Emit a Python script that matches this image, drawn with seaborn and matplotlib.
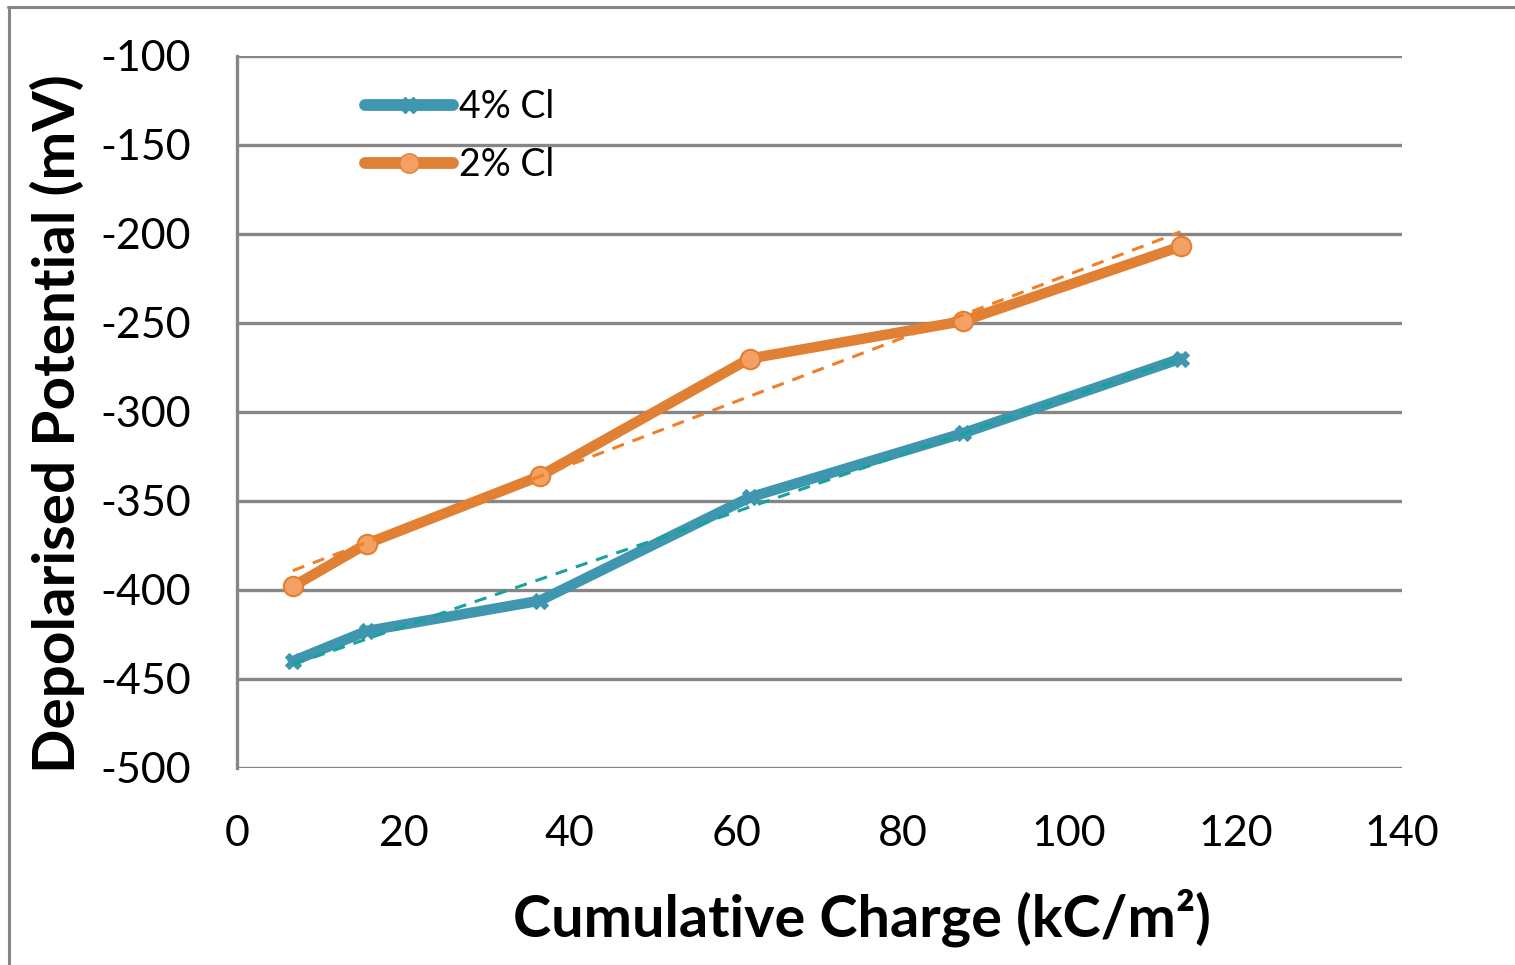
import numpy as np
import pandas as pd
import matplotlib
matplotlib.use("Agg")
import matplotlib.pyplot as plt
import seaborn as sns
from matplotlib.lines import Line2D

charge_4 = [6.7, 15.6, 36.4, 61.6, 87.2, 113.4]
pot_4 = [-440, -423, -406, -348, -312, -270]
charge_2 = [6.7, 15.6, 36.4, 61.6, 87.2, 113.4]
pot_2 = [-398, -374, -336, -270, -249, -207]
series_names = ["4% Cl", "2% Cl"]
x_ticks = [0, 20, 40, 60, 80, 100, 120, 140]
y_ticks = [-500, -450, -400, -350, -300, -250, -200, -150, -100]

sns.set_style("white")
plt.rcParams['font.family'] = ['Lato', 'DejaVu Sans']
plt.rcParams['text.color'] = 'black'
plt.rcParams['axes.labelcolor'] = 'black'

teal = "#3F96AF"
orange = "#E08035"
teal_trend = "#17A39C"
orange_trend = "#F07F2A"
grid_c = "#868686"

fig = plt.figure(figsize=(15.15, 9.65), dpi=100)
ax = fig.add_axes([237/1515, 1-768/965, (1402-237)/1515, (768-56)/965])

df4 = pd.DataFrame({"x": charge_4, "y": pot_4})
df2 = pd.DataFrame({"x": charge_2, "y": pot_2})

for yv in y_ticks:
    ax.axhline(yv, color=grid_c, lw=2.4, zorder=0)

sns.lineplot(data=df4, x="x", y="y", ax=ax, color=teal, lw=7.5, marker="X",
             markersize=11, markeredgecolor=teal, markerfacecolor=teal, zorder=3,
             solid_capstyle="round")
sns.lineplot(data=df2, x="x", y="y", ax=ax, color=orange, lw=7.5, marker="o",
             markersize=14, markeredgecolor=orange, markerfacecolor="#F4A062",
             markeredgewidth=1.5, zorder=3, solid_capstyle="round")

sns.regplot(data=df4, x="x", y="y", ax=ax, scatter=False, ci=None, truncate=True,
            line_kws=dict(color=teal_trend, lw=2.2, ls=(0, (4, 3)), zorder=4))
sns.regplot(data=df2, x="x", y="y", ax=ax, scatter=False, ci=None, truncate=True,
            line_kws=dict(color=orange_trend, lw=2.2, ls=(0, (4, 3)), zorder=4))

ax.set_xlim(0, 140)
ax.set_ylim(-500, -100)
ax.set_xticks(x_ticks)
ax.set_yticks(y_ticks)
ax.set_xticklabels([str(v) for v in x_ticks])
ax.set_yticklabels([str(v) for v in y_ticks])
ax.tick_params(axis="both", length=0, labelsize=31, colors="black")
ax.tick_params(axis="x", pad=34)
ax.tick_params(axis="y", pad=33)
for lab in ax.get_yticklabels():
    lab.set_horizontalalignment("right")

for s in ["top", "right", "bottom"]:
    ax.spines[s].set_visible(False)
ax.spines["left"].set_color(grid_c)
ax.spines["left"].set_linewidth(2.4)

ax.set_xlabel("Cumulative Charge (kC/m²)", fontsize=41.5, fontweight="bold",
              color="black", va="center")
ax.set_ylabel("Depolarised Potential (mV)", fontsize=42, fontweight="bold",
              color="black", va="center")
ax.xaxis.set_label_coords((862-237)/1165, (768-918)/712)
ax.yaxis.set_label_coords((57-237)/1165, (768-423.5)/712)

handles = [
    Line2D([], [], color=teal, lw=8.5, marker="X", markersize=11, markerfacecolor=teal,
           solid_capstyle="round"),
    Line2D([], [], color=orange, lw=8.5, marker="o", markersize=14,
           markerfacecolor="#F4A062", markeredgecolor=orange, solid_capstyle="round"),
]
leg = ax.legend(handles, series_names, loc="upper left", bbox_to_anchor=(0.097, 0.975),
                frameon=False, fontsize=27, handlelength=2.35, handletextpad=0.15,
                labelspacing=0.6, borderaxespad=0)

# outer chart border (top and left visible)
fig.add_artist(Line2D([8/1515, 1], [1-7/965, 1-7/965], color=grid_c, lw=2.2,
                      transform=fig.transFigure))
fig.add_artist(Line2D([9/1515, 9/1515], [0, 1-7/965], color=grid_c, lw=2.2,
                      transform=fig.transFigure))

fig.savefig("out.png", dpi=100, facecolor="white")
